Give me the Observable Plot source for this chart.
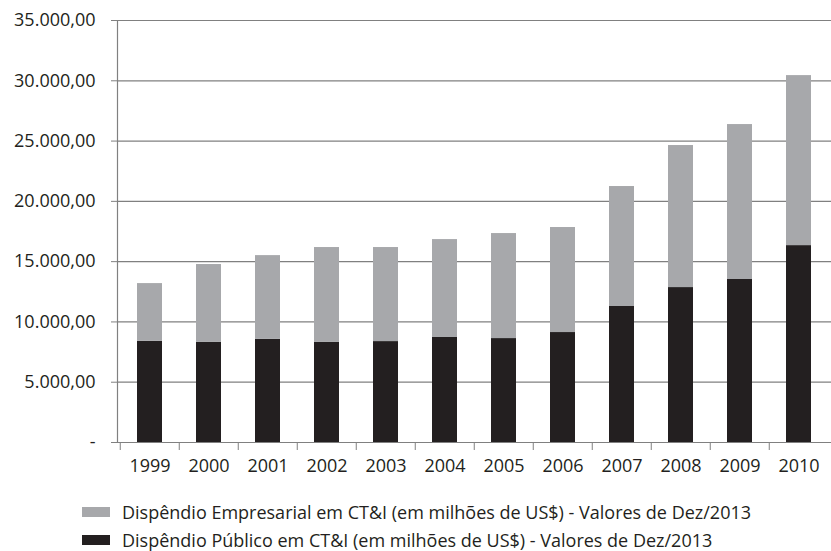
<!DOCTYPE html>
<html>
<head>
<meta charset="utf-8">
<script src="https://cdn.jsdelivr.net/npm/d3@7"></script>
<script src="https://cdn.jsdelivr.net/npm/@observablehq/plot@0.6"></script>
<style>
  html, body { margin: 0; padding: 0; background: #fff; }
  body { width: 831px; height: 551px; overflow: hidden; font-family: "Open Sans", sans-serif; }
  #legend { margin-top: 16px; margin-left: 82px; font-size: 18px; line-height: 1; color: #231f20; }
  .item { display: flex; align-items: center; height: 28px; white-space: nowrap; }
  .sw { width: 28px; height: 10px; margin-right: 12px; flex: none; }
</style>
</head>
<body>
<div id="chart"></div>
<div id="legend"></div>
<script>
const years = ["1999","2000","2001","2002","2003","2004","2005","2006","2007","2008","2009","2010"];
const publico = [8400, 8300, 8550, 8300, 8370, 8710, 8620, 9120, 11280, 12850, 13520, 16330];
const total = [13180, 14760, 15500, 16170, 16170, 16830, 17330, 17830, 21230, 24630, 26370, 30430];
const empresarial = total.map((t, i) => t - publico[i]);
const seriesNames = [
  "Dispêndio Empresarial em CT&I (em milhões de US$) - Valores de Dez/2013",
  "Dispêndio Público em CT&I (em milhões de US$) - Valores de Dez/2013"
];
const seriesColors = ["#a7a8ab", "#231f20"];
const yTicks = [0, 5000, 10000, 15000, 20000, 25000, 30000, 35000];

const data = [];
years.forEach((y, i) => {
  data.push({year: y, serie: seriesNames[1], value: publico[i]});
  data.push({year: y, serie: seriesNames[0], value: empresarial[i]});
});

const W = 831, ML = 117, MR = 0;
const step = (W - ML - MR) / years.length;
const fmt = v => v === 0 ? "-" : v.toLocaleString("pt-BR", {minimumFractionDigits: 2, maximumFractionDigits: 2});

const chart = Plot.plot({
  width: W,
  height: 482,
  marginLeft: ML,
  marginRight: MR,
  marginTop: 20,
  marginBottom: 40,
  style: {fontFamily: "Open Sans, sans-serif", fontSize: "18px", color: "#231f20", background: "#fff"},
  x: {domain: years, paddingInner: 0.58, paddingOuter: 0.29, label: null},
  y: {domain: [0, 35000], label: null},
  color: {domain: seriesNames, range: seriesColors},
  marks: [
    Plot.gridY(yTicks, {stroke: "#808080", strokeOpacity: 1, strokeWidth: 1.2}),
    Plot.barY(data, {x: "year", y: "value", fill: "serie", order: [seriesNames[1], seriesNames[0]]}),
    Plot.axisY(yTicks, {tickFormat: fmt, tickSize: 6, tickPadding: 16, stroke: "#808080", fill: "#231f20", fontSize: 18}),
    Plot.frame({anchor: "left", stroke: "#808080", strokeWidth: 1.2}),
    Plot.axisX({tickSize: 0, tickPadding: 17, fill: "#231f20", fontSize: 18}),
    Plot.axisX({tickSize: 8, tickFormat: () => "", stroke: "#808080", dx: -step / 2}),
    Plot.ruleY([0], {stroke: "#808080", strokeWidth: 1.2})
  ]
});
document.getElementById("chart").appendChild(chart);

const legend = d3.select("#legend");
seriesNames.forEach((n, i) => {
  const it = legend.append("div").attr("class", "item");
  it.append("div").attr("class", "sw").style("background", seriesColors[i]);
  it.append("span").text(n);
});
</script>
</body>
</html>
